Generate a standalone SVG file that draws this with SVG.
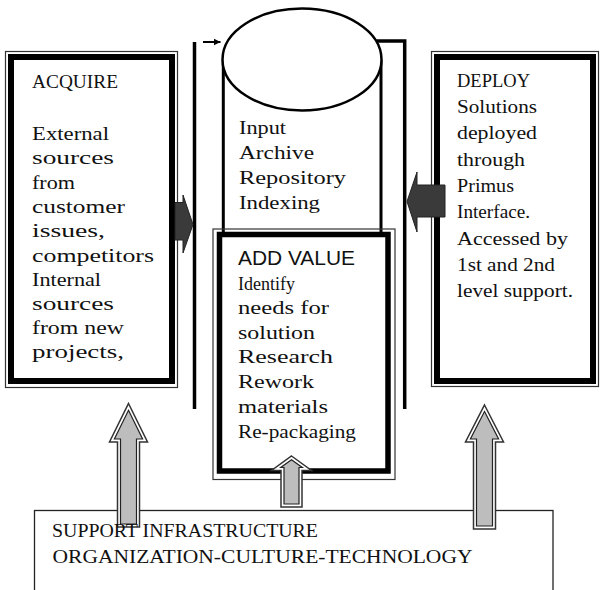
<svg xmlns="http://www.w3.org/2000/svg" width="603" height="590" viewBox="0 0 603 590">
<style>
.t{font-family:"Liberation Serif","Times New Roman",serif;font-size:19px;fill:#111}
.s{font-family:"Liberation Sans",Arial,sans-serif;font-size:20.5px;fill:#111}
.thin{fill:none;stroke:#333;stroke-width:1.2}
.thick{fill:none;stroke:#000;stroke-width:6}
.ln{fill:none;stroke:#000;stroke-width:3.5}
.dark{fill:#3a3a3a;stroke:#222;stroke-width:1}
.go{fill:#fff;stroke:#333;stroke-width:1.5}
.gi{fill:#bdbdbd;stroke:#222;stroke-width:1.2}
</style>
<defs>
<marker id="ah" markerWidth="8" markerHeight="8" refX="7" refY="4" orient="auto" markerUnits="userSpaceOnUse">
<path d="M0,0.5 L7,4 L0,7.5 Z" fill="#000"/>
</marker>
</defs>
<rect width="603" height="590" fill="#fff"/>

<g id="support">
<rect x="34.5" y="510.5" width="518.5" height="100" fill="#fff" stroke="#222" stroke-width="1.3"/>
</g>

<g id="repository">
<line x1="223.3" y1="60" x2="223.3" y2="232" stroke="#000" stroke-width="3"/>
<line x1="381" y1="60" x2="381" y2="232" stroke="#000" stroke-width="3"/>
<ellipse cx="302" cy="59.5" rx="79.5" ry="51" fill="#fff" stroke="#000" stroke-width="2.5"/>
<text class="t" x="239" y="133.5" textLength="47" lengthAdjust="spacingAndGlyphs">Input</text>
<text class="t" x="239" y="158.5" textLength="75" lengthAdjust="spacingAndGlyphs">Archive</text>
<text class="t" x="239" y="183.5" textLength="107" lengthAdjust="spacingAndGlyphs">Repository</text>
<text class="t" x="239" y="208.5" textLength="81" lengthAdjust="spacingAndGlyphs">Indexing</text>
</g>

<g id="acquire">
<rect x="5.5" y="51.5" width="172" height="336" fill="#fff" class="thin"/>
<rect x="11" y="57" width="161" height="324" class="thick"/>
<text class="t" x="32" y="87.5" textLength="86" lengthAdjust="spacingAndGlyphs">ACQUIRE</text>
<text class="t" x="32" y="140" textLength="77" lengthAdjust="spacingAndGlyphs">External</text>
<text class="t" x="32" y="164.3" textLength="82" lengthAdjust="spacingAndGlyphs">sources</text>
<text class="t" x="32" y="188.5" textLength="43" lengthAdjust="spacingAndGlyphs">from</text>
<text class="t" x="32" y="212.8" textLength="93" lengthAdjust="spacingAndGlyphs">customer</text>
<text class="t" x="32" y="237" textLength="73" lengthAdjust="spacingAndGlyphs">issues,</text>
<text class="t" x="32" y="261.5" textLength="122" lengthAdjust="spacingAndGlyphs">competitors</text>
<text class="t" x="32" y="285.5" textLength="69" lengthAdjust="spacingAndGlyphs">Internal</text>
<text class="t" x="32" y="309.8" textLength="82" lengthAdjust="spacingAndGlyphs">sources</text>
<text class="t" x="32" y="334" textLength="92" lengthAdjust="spacingAndGlyphs">from new</text>
<text class="t" x="32" y="358.3" textLength="92" lengthAdjust="spacingAndGlyphs">projects,</text>
</g>

<g id="add-value">
<rect x="213" y="229" width="182" height="250.5" fill="#fff" class="thin"/>
<rect x="219.5" y="234.5" width="168.5" height="236.5" class="thick" style="stroke-width:5.5"/>
<text class="s" x="238" y="265" textLength="117" lengthAdjust="spacingAndGlyphs">ADD VALUE</text>
<text class="t" x="238" y="289.6" textLength="57" lengthAdjust="spacingAndGlyphs">Identify</text>
<text class="t" x="238" y="314.2" textLength="91" lengthAdjust="spacingAndGlyphs">needs for</text>
<text class="t" x="238" y="338.8" textLength="77" lengthAdjust="spacingAndGlyphs">solution</text>
<text class="t" x="238" y="363.4" textLength="95" lengthAdjust="spacingAndGlyphs">Research</text>
<text class="t" x="238" y="388" textLength="76" lengthAdjust="spacingAndGlyphs">Rework</text>
<text class="t" x="238" y="412.6" textLength="90" lengthAdjust="spacingAndGlyphs">materials</text>
<text class="t" x="238" y="437.5" textLength="118" lengthAdjust="spacingAndGlyphs">Re-packaging</text>
</g>

<g id="deploy">
<rect x="431.5" y="51.5" width="167" height="335" fill="#fff" class="thin"/>
<rect x="437" y="57" width="156" height="324" class="thick"/>
<text class="t" x="457" y="86.7" textLength="73" lengthAdjust="spacingAndGlyphs">DEPLOY</text>
<text class="t" x="457" y="113" textLength="80" lengthAdjust="spacingAndGlyphs">Solutions</text>
<text class="t" x="457" y="139.3" textLength="80" lengthAdjust="spacingAndGlyphs">deployed</text>
<text class="t" x="457" y="165.6" textLength="68" lengthAdjust="spacingAndGlyphs">through</text>
<text class="t" x="457" y="191.9" textLength="57" lengthAdjust="spacingAndGlyphs">Primus</text>
<text class="t" x="457" y="218.2" textLength="73" lengthAdjust="spacingAndGlyphs">Interface.</text>
<text class="t" x="457" y="244.5" textLength="111" lengthAdjust="spacingAndGlyphs">Accessed by</text>
<text class="t" x="457" y="270.8" textLength="98" lengthAdjust="spacingAndGlyphs">1st and 2nd</text>
<text class="t" x="457" y="297.1" textLength="116" lengthAdjust="spacingAndGlyphs">level support.</text>
</g>

<g id="connectors">
<line x1="194.5" y1="42" x2="194.5" y2="409" class="ln"/>
<polyline points="376.5,41 404.7,41 404.7,409" class="ln"/>
<line x1="203" y1="42" x2="220.5" y2="42" stroke="#000" stroke-width="2" marker-end="url(#ah)"/>
<polygon class="dark" points="175,202.5 183,202.5 183,195 193,224.5 183,253 183,240 175,240"/>
<polygon class="dark" points="445,185 417,185 417,172 407,201.5 417,232 417,217 445,217"/>
<polygon class="go" points="128.5,403.5 147.5,442 139.5,442 139.5,527 117.5,527 117.5,442 109.5,442"/>
<polygon class="gi" points="128.5,410.3 142.6,439 136.5,439 136.5,524 120.5,524 120.5,439 114.4,439"/>
<polygon class="go" points="484.5,405 503.5,442 495.5,442 495.5,529 473.5,529 473.5,442 465.5,442"/>
<polygon class="gi" points="484.5,411.6 498.6,439 492.5,439 492.5,526 476.5,526 476.5,439 470.4,439"/>
<polygon class="go" points="291.5,456 311.5,470.5 302,470.5 302,507 281,507 281,470.5 271.5,470.5"/>
<polygon class="gi" points="291.5,459.7 302.3,467.5 299,467.5 299,504 284,504 284,467.5 280.7,467.5"/>
</g>

<g id="support-text">
<text class="t" x="52" y="537" textLength="266" lengthAdjust="spacingAndGlyphs">SUPPORT INFRASTRUCTURE</text>
<text class="t" x="52.5" y="563" textLength="420" lengthAdjust="spacingAndGlyphs">ORGANIZATION-CULTURE-TECHNOLOGY</text>
</g>
</svg>
